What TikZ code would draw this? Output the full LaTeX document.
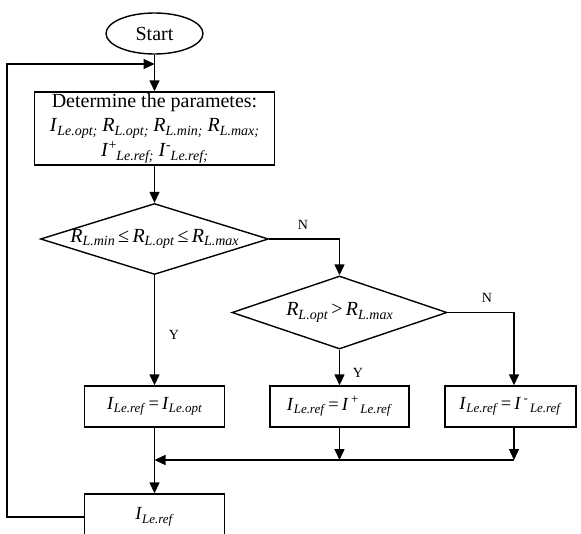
\documentclass[tikz,border=0pt]{standalone}
\usepackage{fontspec}
\setmainfont{Liberation Serif}
\usepackage{graphicx}
\usetikzlibrary{shapes.geometric,arrows.meta}
\newcommand{\Vsub}[2]{\textit{#1}\raisebox{-0.4ex}{\scalebox{0.7}{\textit{#2}}}}
\newcommand{\Vsup}[3]{\textit{#1}\raisebox{0.8ex}{\scalebox{0.7}{#2}}\raisebox{-0.4ex}{\scalebox{0.7}{\textit{#3}}}}
\begin{document}
\begin{tikzpicture}[x=1pt,y=-1pt,
  ln/.style={line width=1.4pt},
  arr/.style={ln,-{Triangle[length=11pt,width=10pt]}},
  box/.style={draw,line width=1.4pt,rectangle,inner sep=0pt,font=\fontsize{18.5}{18.5}\selectfont},
  dia/.style={draw,line width=1.4pt,diamond,inner sep=0pt},
  yn/.style={font=\fontsize{14}{14}\selectfont}]
\clip (0,0) rectangle (581,533);
\node[draw,line width=1.4pt,ellipse,minimum width=97pt,minimum height=41pt,inner sep=0pt,font=\fontsize{20}{20}\selectfont] (start) at (154.5,33.5) {Start};
\node[box,minimum width=240pt,minimum height=73pt,align=center,font=\fontsize{20}{24}\selectfont] (param) at (154.5,128.5)
  {Determine the parametes:\\
   \Vsub{I}{Le.opt;} \Vsub{R}{L.opt;} \Vsub{R}{L.min;} \Vsub{R}{L.max;}\\[1.5pt]
   \Vsup{I}{+}{Le.ref;} \Vsup{I}{-}{Le.ref;}};
\node[dia,minimum width=228pt,minimum height=71pt,
  label={[font=\fontsize{20}{20}\selectfont]center:\Vsub{R}{L.min}\,≤\,\Vsub{R}{L.opt}\,≤\,\Vsub{R}{L.max}}] (d1) at (154.5,239) {};
\node[dia,minimum width=215pt,minimum height=73pt,
  label={[font=\fontsize{20}{20}\selectfont]center:\Vsub{R}{L.opt}\,>\,\Vsub{R}{L.max}}] (d2) at (339.5,312.5) {};
\node[box,minimum width=140pt,minimum height=41pt] (b1) at (154.5,406.5) {\Vsub{I}{Le.ref}\,=\,\Vsub{I}{Le.opt}};
\node[box,minimum width=139pt,minimum height=41pt] (b2) at (339.5,406.5) {\Vsub{I}{Le.ref}\,=\,\Vsup{I}{\,+}{\,Le.ref}};
\node[box,minimum width=131pt,minimum height=41pt] (b3) at (510.5,406.5) {\Vsub{I}{Le.ref}\,=\,\Vsup{I}{\,-}{\,Le.ref}};
\node[box,minimum width=140pt,minimum height=46pt] (fin) at (154.5,517) {\Vsub{I}{Le.ref}};
\coordinate (m1) at (154.5,460);
\coordinate (m2) at (339.5,460);
\coordinate (m3) at (514,460);
\coordinate (lp) at (7,64);
\coordinate (loopin) at (154.5,64);
\draw[arr] (start.south) -- (param.north);
\draw[arr] (param.south) -- (d1.north);
\draw[arr] (d1.south) -- (b1.north);
\draw[arr] (d1.east) -| (d2.north);
\draw[arr] (d2.south) -- (b2.north);
\draw[arr] (d2.east) -| (b3.north -| m3);
\draw[ln] (b1.south) -- (m1);
\draw[arr] (m1) -- (fin.north);
\draw[arr] (b2.south) -- (m2);
\draw[arr] (b3.south -| m3) -- (m3);
\draw[arr] (m3) -- (m1);
\draw[arr] (fin.west) -| (lp) -- (loopin);
\node[yn] (y1) at (174,335) {Y};
\node[yn] (n1) at (303,225) {N};
\node[yn] (y2) at (358,373) {Y};
\node[yn] (n2) at (487,298) {N};
\end{tikzpicture}
\end{document}
